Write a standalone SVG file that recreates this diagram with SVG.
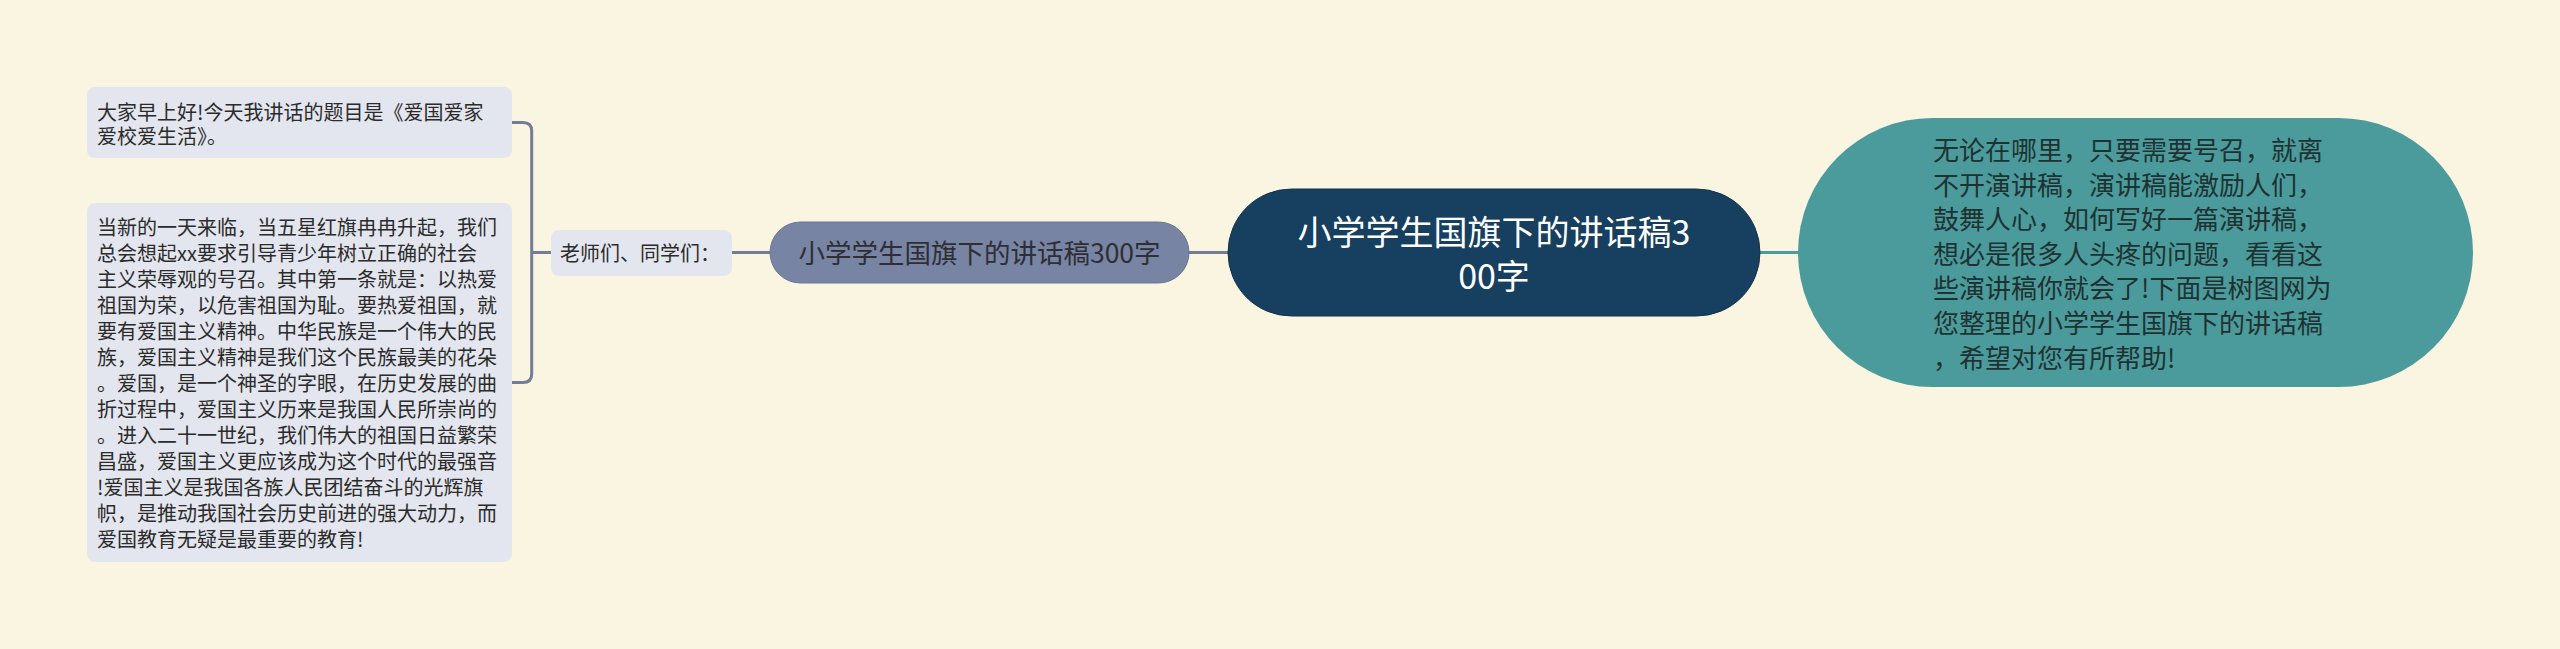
<svg xmlns="http://www.w3.org/2000/svg" width="2560" height="649" viewBox="0 0 2560 649">
<style>
text{font-family:"Noto Sans CJK SC","Noto Sans",sans-serif;}
.leaf{fill:#e3e6ee;}
.lt{font-size:20px;fill:#2b2b2b;}
.conn{fill:none;stroke:#737d99;stroke-width:3;}
.connT{fill:none;stroke:#4a9b9b;stroke-width:3;}
</style>
<rect x="0" y="0" width="2560" height="649" fill="#faf5e0"/>
<g id="connectors">
<path class="conn" d="M512,122.5 H523 Q531.7,122.5 531.7,131 V374 Q531.7,382.5 523,382.5 H512"/>
<path class="conn" d="M531.7,252.5 H551"/>
<path class="conn" d="M732,252.5 H771"/>
<path class="conn" d="M1188,252.5 H1229"/>
<path class="connT" d="M1759,252.5 H1799"/>
</g>
<g id="node-leaf1">
<rect class="leaf" x="87" y="87" width="425" height="71" rx="8"/>
<text class="lt" x="97" y="119.5">大家早上好!今天我讲话的题目是《爱国爱家</text>
<text class="lt" x="97" y="143.5">爱校爱生活》。</text>
</g>
<g id="node-leaf2">
<rect class="leaf" x="87" y="203" width="425" height="359" rx="8"/>
<text class="lt" x="97" y="235">当新的一天来临，当五星红旗冉冉升起，我们</text>
<text class="lt" x="97" y="261">总会想起xx要求引导青少年树立正确的社会</text>
<text class="lt" x="97" y="287">主义荣辱观的号召。其中第一条就是：以热爱</text>
<text class="lt" x="97" y="313">祖国为荣，以危害祖国为耻。要热爱祖国，就</text>
<text class="lt" x="97" y="339">要有爱国主义精神。中华民族是一个伟大的民</text>
<text class="lt" x="97" y="365">族，爱国主义精神是我们这个民族最美的花朵</text>
<text class="lt" x="97" y="391">。爱国，是一个神圣的字眼，在历史发展的曲</text>
<text class="lt" x="97" y="417">折过程中，爱国主义历来是我国人民所崇尚的</text>
<text class="lt" x="97" y="443">。进入二十一世纪，我们伟大的祖国日益繁荣</text>
<text class="lt" x="97" y="469">昌盛，爱国主义更应该成为这个时代的最强音</text>
<text class="lt" x="97" y="495">!爱国主义是我国各族人民团结奋斗的光辉旗</text>
<text class="lt" x="97" y="521">帜，是推动我国社会历史前进的强大动力，而</text>
<text class="lt" x="97" y="547">爱国教育无疑是最重要的教育!</text>
</g>
<g id="node-greeting">
<rect class="leaf" x="551" y="230" width="181" height="46" rx="8"/>
<text class="lt" x="560" y="260.5">老师们、同学们：</text>
</g>
<g id="node-sub">
<rect x="770" y="222" width="419" height="61" rx="30.5" fill="#7884a3" stroke="#6b7694" stroke-width="1"/>
<text x="979.5" y="262.5" text-anchor="middle" font-size="26.5" fill="#2e2e34">小学学生国旗下的讲话稿300字</text>
</g>
<g id="node-root">
<rect x="1228" y="189" width="532" height="127" rx="63.5" fill="#173f5f" stroke="#12334d" stroke-width="1"/>
<text x="1494" y="244.5" text-anchor="middle" font-size="34" fill="#ffffff">小学学生国旗下的讲话稿3</text>
<text x="1494" y="289" text-anchor="middle" font-size="34" fill="#ffffff">00字</text>
</g>
<g id="node-intro">
<rect x="1798" y="118" width="675" height="269" rx="134.5" fill="#4b9b9c"/>
<g font-size="26" fill="#1f3232">
<text x="1933" y="160">无论在哪里，只要需要号召，就离</text>
<text x="1933" y="194.6">不开演讲稿，演讲稿能激励人们，</text>
<text x="1933" y="229.2">鼓舞人心，如何写好一篇演讲稿，</text>
<text x="1933" y="263.8">想必是很多人头疼的问题，看看这</text>
<text x="1933" y="298.4">些演讲稿你就会了!下面是树图网为</text>
<text x="1933" y="333">您整理的小学学生国旗下的讲话稿</text>
<text x="1933" y="367.6">，希望对您有所帮助!</text>
</g>
</g>
</svg>
